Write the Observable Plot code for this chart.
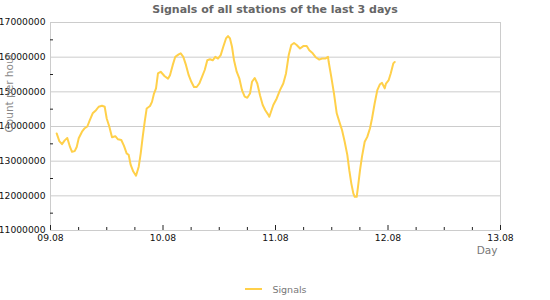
<!DOCTYPE html>
<html>
<head>
<meta charset="utf-8">
<script src="https://cdn.jsdelivr.net/npm/d3@7"></script>
<script src="https://cdn.jsdelivr.net/npm/@observablehq/plot@0.6"></script>
<style>
  body { margin: 0; background: #fff; font-family: "DejaVu Sans", sans-serif; }
  #wrap { width: 550px; height: 300px; overflow: hidden; position: relative; }
  #title { height: 16px; padding-top: 3px; box-sizing: border-box; line-height: 14px; text-align: center;
           font-weight: bold; font-size: 11px; color: #666; }
  #legend { height: 22px; display: flex; align-items: center; justify-content: center; font-size: 9.5px; color: #777; }
  #legend .sw { width: 17px; height: 2px; background: #ffd04a; margin-right: 10px; margin-left: 2px; }
</style>
</head>
<body>
<div id="wrap">
  <div id="title">Signals of all stations of the last 3 days</div>
  <div id="chart"></div>
  <div id="legend"><span class="sw"></span><span>Signals</span></div>
</div>
<script>
// Hours after 09.08 00:00
const hours = [1.32,1.88,2.45,3.03,3.58,4.16,4.59,5.16,5.59,6.02,6.72,7.30,7.85,8.43,9.00,9.71,10.28,10.99,11.56,11.99,
  12.54,13.12,13.82,14.40,15.10,15.68,16.26,16.68,17.11,17.66,18.24,18.82,19.24,19.67,20.10,20.52,21.23,21.65,22.08,22.51,
  22.93,23.51,24.36,25.07,25.49,26.07,26.62,27.35,27.78,28.33,28.91,29.48,30.04,30.61,31.19,31.74,32.32,32.90,33.45,34.03,
  34.60,35.16,35.73,36.31,36.86,37.44,37.87,38.29,38.72,39.15,39.72,40.28,40.85,41.43,41.98,42.56,42.99,43.56,44.12,44.69,
  45.27,45.82,46.40,46.68,47.53,48.26,48.96,49.66,50.24,50.82,51.37,51.95,52.52,53.23,53.93,54.66,55.21,55.94,56.64,57.34,
  57.92,58.62,59.20,59.35,59.90,60.48,61.06,61.61,62.19,62.76,63.32,63.74,64.17,64.60,64.90,65.32,65.60,66.03,66.45,67.03,
  67.58,68.16,68.59,69.16,69.72,70.29,70.72,71.30,71.57,72.15,72.58,73.13,73.43];
// Count per hour (signals)
const signals = [13800000,13580000,13490000,13600000,13670000,13410000,13270000,13290000,13410000,13660000,
  13850000,13950000,14000000,14200000,14380000,14470000,14570000,14600000,14570000,14230000,
  14000000,13690000,13720000,13630000,13610000,13440000,13220000,13180000,12890000,12700000,
  12580000,12840000,13220000,13700000,14140000,14520000,14590000,14710000,14950000,15100000,
  15530000,15580000,15450000,15380000,15480000,15770000,16010000,16080000,16110000,16010000,
  15770000,15480000,15290000,15140000,15140000,15240000,15430000,15630000,15910000,15940000,
  15910000,16010000,15960000,16060000,16300000,16540000,16610000,16540000,16300000,15910000,
  15580000,15390000,15050000,14860000,14830000,14950000,15290000,15400000,15240000,14900000,
  14620000,14470000,14350000,14280000,14620000,14810000,15050000,15240000,15530000,16060000,
  16350000,16410000,16350000,16250000,16320000,16320000,16200000,16110000,15990000,15930000,
  15960000,15960000,16010000,15860000,15430000,14950000,14380000,14140000,13900000,13560000,
  13180000,12740000,12360000,12070000,11970000,11970000,12260000,12740000,13130000,13560000,
  13700000,13950000,14230000,14670000,15050000,15220000,15260000,15100000,15240000,15340000,
  15530000,15820000,15860000];
const dayTicks = ["2024-08-09", "2024-08-10", "2024-08-11", "2024-08-12", "2024-08-13"];
const yTicks = [11000000, 12000000, 13000000, 14000000, 15000000, 16000000, 17000000];
const yMinor = [11500000, 12500000, 13500000, 14500000, 15500000, 16500000];

const t0 = new Date(2024, 7, 9, 0, 0);
const dayDates = dayTicks.map(s => { const [y, m, d] = s.split("-").map(Number); return new Date(y, m - 1, d); });
const data = hours.map((h, i) => ({ t: new Date(t0.getTime() + h * 3600e3), v: signals[i] }));
const xMinor = d3.timeHour.every(6).range(dayDates[0], dayDates[dayDates.length - 1]).filter(d => d.getHours() !== 0);
const fmt = d3.timeFormat("%d.%m");

const chart = Plot.plot({
  width: 550,
  height: 262,
  marginTop: 6,
  marginLeft: 50,
  marginRight: 50,
  marginBottom: 48,
  style: { fontFamily: "DejaVu Sans, sans-serif", overflow: "visible" },
  x: { type: "time", domain: [dayDates[0], dayDates[dayDates.length - 1]] },
  y: { domain: [11000000, 17000000] },
  marks: [
    Plot.gridY(yTicks, { stroke: "#cccccc", strokeOpacity: 1, strokeWidth: 1 }),
    Plot.ruleX([dayDates[0]], { stroke: "#cccccc" }),
    Plot.ruleX([dayDates[dayDates.length - 1]], { stroke: "#cccccc" }),
    Plot.axisY(yTicks, { tickSize: 0, tickPadding: 5, tickFormat: d3.format("d"), fontSize: 9.2, fill: "#111", label: null }),
    Plot.axisY(yMinor, { tickSize: 3, dx: 3, text: null, stroke: "#222", label: null }),
    Plot.axisX(xMinor, { tickSize: 3, dy: -3, text: null, stroke: "#222", label: null }),
    Plot.axisX(dayDates, { tickSize: 5, dy: -5, text: null, stroke: "#222", label: null }),
    Plot.axisX(dayDates, { tickSize: 0, tickPadding: 4, tickFormat: fmt, fontSize: 9.2, fill: "#111", label: null }),
    Plot.text(["Count per hour"], { frameAnchor: "left", rotate: -90, dx: -41, dy: 6, fill: "#888", fontSize: 10.5 }),
    Plot.text(["Day"], { frameAnchor: "bottom-right", dx: -3, dy: 23, fill: "#777", fontSize: 10.5 }),
    Plot.line(data, { x: "t", y: "v", stroke: "#ffd04a", strokeWidth: 2 })
  ]
});
document.getElementById("chart").append(chart);
</script>
</body>
</html>
